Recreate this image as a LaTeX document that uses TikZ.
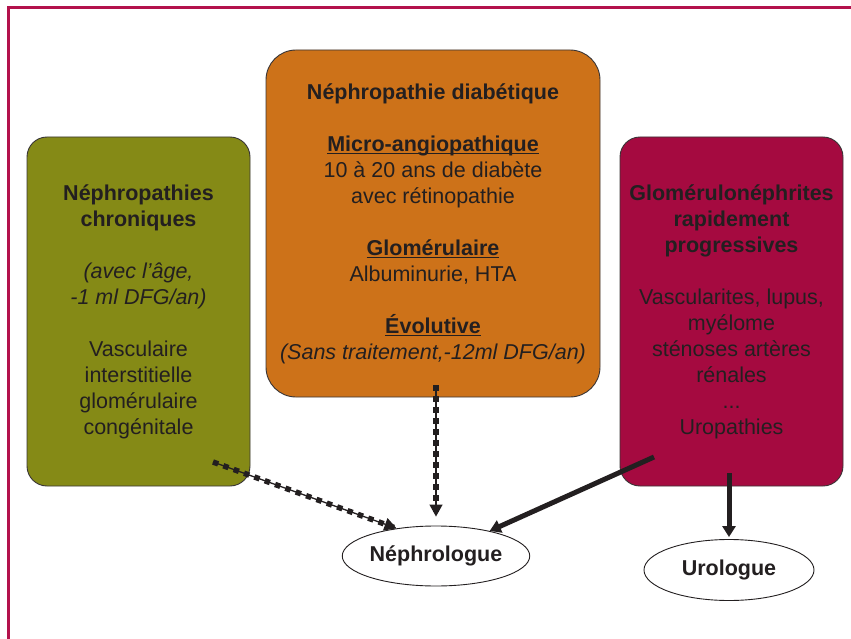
\documentclass[tikz,border=0pt]{standalone}
\usepackage{fontspec}
\setmainfont{Liberation Sans}
\usetikzlibrary{arrows.meta,shapes.geometric}
\definecolor{frameRed}{HTML}{B3124C}
\definecolor{oliveBox}{HTML}{858A16}
\definecolor{orangeBox}{HTML}{CD7219}
\definecolor{crimsonBox}{HTML}{A50A40}
\definecolor{txt}{HTML}{231F20}
\newcommand\hdul[1]{\setbox0\hbox{#1}\rlap{\rule[-3.2pt]{\wd0}{1.7pt}}\box0}
\tikzset{
  card/.style={draw=txt!90, line width=0.9pt, rounded corners=#1, align=center,
    text=txt, font=\fontsize{21.5}{26}\selectfont, inner sep=0pt},
  oval/.style={ellipse, draw=txt, line width=0.9pt, fill=white, inner sep=0pt,
    text=txt, font=\fontsize{21.5}{26}\selectfont\bfseries},
  sqdots/.style={line width=1.3pt, txt, -{Triangle[length=12pt,width=13pt]},
    postaction={draw, -, line width=5.5pt, dash pattern=on 5.5pt off 5.5pt}},
  thickarrow/.style={line width=5pt, txt, -{Triangle[length=11pt,width=13pt]}},
}
\begin{document}
\begin{tikzpicture}[x=1pt,y=-1pt]
\useasboundingbox (0,0) rectangle (851,639);
\draw[frameRed, line width=3pt] (8,640) -- (8,8) -- (852,8);

\node[card=20pt, fill=oliveBox, minimum width=223pt, minimum height=349pt] (chron) at (138.5,311.5)
 {\textbf{Néphropathies}\\ \textbf{chroniques}\\[26pt]
  \textit{(avec l’âge,}\\ \textit{-1 ml DFG/an)}\\[26pt]
  Vasculaire\\ interstitielle\\ glomérulaire\\ congénitale};

\node[card=30pt, fill=orangeBox, minimum width=334pt, minimum height=347pt] (diab) at (433,223.5)
 {\textbf{Néphropathie diabétique}\\[26pt]
  \textbf{\hdul{Micro-angiopathique}}\\ 10 à 20 ans de diabète\\ avec rétinopathie\\[26pt]
  \textbf{\hdul{Glomérulaire}}\\ Albuminurie, HTA\\[26pt]
  \textbf{\hdul{Évolutive}}\\ \textit{(Sans traitement,-12ml DFG/an)}};

\node[card=20pt, fill=crimsonBox, minimum width=223pt, minimum height=349pt] (glom) at (731.5,311.5)
 {\textbf{Glomérulonéphrites}\\ \textbf{rapidement}\\ \textbf{progressives}\\[26pt]
  Vascularites, lupus,\\ myélome\\ sténoses artères\\ rénales\\ ...\\ Uropathies};

\node[oval, minimum width=162pt, minimum height=60pt] (neph) at (436,556) {Néphrologue};
\node[oval, minimum width=170pt, minimum height=61pt] (uro) at (729,570) {Urologue};

\coordinate (s1) at (213,462);
\coordinate (s2) at (436,385);
\coordinate (s3) at (654,457);
\coordinate (s4) at (729,473);

\draw[sqdots] (s1) -- (neph.145);
\draw[sqdots, shorten >=9pt] (s2) -- (neph.north);
\draw[thickarrow] (s3) -- (neph.25);
\draw[thickarrow, shorten >=2pt] (s4) -- (uro.north);
\end{tikzpicture}
\end{document}
